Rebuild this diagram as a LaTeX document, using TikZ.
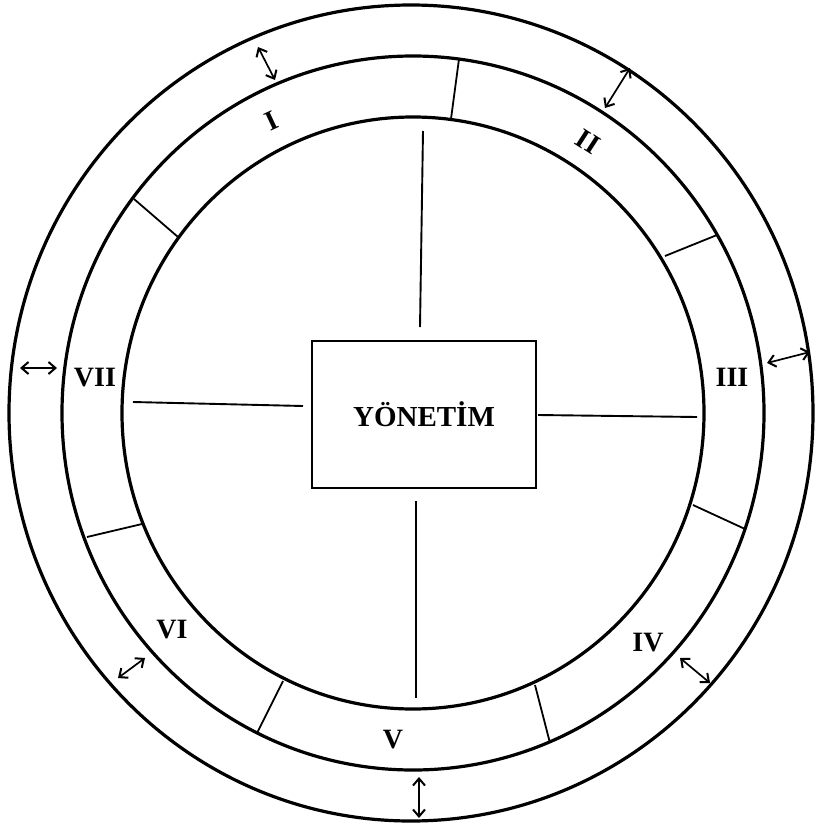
\documentclass[tikz,border=0pt]{standalone}
\usepackage{fontspec}
\setmainfont{Liberation Serif}
\usetikzlibrary{arrows.meta}
\begin{document}
\begin{tikzpicture}[x=1pt,y=-1pt,
  ring/.style={line width=3.2pt},
  divider/.style={line width=1.8pt},
  spoke/.style={line width=1.9pt},
  gap/.style={line width=1.7pt,{Straight Barb[length=7pt,width=12pt,line width=2pt]}-{Straight Barb[length=7pt,width=12pt,line width=2pt]}},
  lab/.style={font=\bfseries\fontsize{28}{28}\selectfont,inner sep=0pt},
  boxnode/.style={draw,line width=2pt,minimum width=224pt,minimum height=147pt,inner sep=0pt,font=\bfseries\fontsize{29}{29}\selectfont}]
\useasboundingbox (0,0) rectangle (815,827);
% rings
\draw[ring] (411,413) ellipse [x radius=402pt, y radius=408pt];
\draw[ring] (413,413) ellipse [x radius=351pt, y radius=357pt];
\draw[ring] (413,413) ellipse [x radius=291pt, y radius=296pt];
% centre box
\node[boxnode] (box) at (424,414) {YÖNETİM};
% spokes
\coordinate (tA) at (423,131); \coordinate (tB) at (420,327);
\coordinate (bA) at (416,501); \coordinate (bB) at (416,698);
\coordinate (lA) at (133,402); \coordinate (lB) at (303,406);
\coordinate (rA) at (538,415); \coordinate (rB) at (697,417);
\draw[spoke] (tA) -- (tB);
\draw[spoke] (bA) -- (bB);
\draw[spoke] (lA) -- (lB);
\draw[spoke] (rA) -- (rB);
% dividers between segments
\coordinate (d12m) at (459,59);  \coordinate (d12i) at (451,119);
\coordinate (d23m) at (717,235); \coordinate (d23i) at (665,256);
\coordinate (d34i) at (693,505); \coordinate (d34m) at (745,529);
\coordinate (d45i) at (535,685); \coordinate (d45m) at (550,743);
\coordinate (d56i) at (283,681); \coordinate (d56m) at (257,733);
\coordinate (d67m) at (87,537);  \coordinate (d67i) at (142,524);
\coordinate (d71m) at (134,199); \coordinate (d71i) at (178,237);
\foreach \a/\b in {d12m/d12i,d23m/d23i,d34i/d34m,d45i/d45m,d56i/d56m,d67m/d67i,d71m/d71i}
  \draw[divider] (\a) -- (\b);
% segment labels
\node[lab,rotate=25]  (s1) at (272,121) {I};
\node[lab,rotate=-33] (s2) at (588,142) {II};
\node[lab] (s3) at (732,377) {III};
\node[lab] (s4) at (648,643) {IV};
\node[lab] (s5) at (393,740) {V};
\node[lab] (s6) at (172,630) {VI};
\node[lab] (s7) at (95,378) {VII};
% double arrows across the outer ring
\coordinate (a1o) at (258,47);  \coordinate (a1i) at (275,80);
\coordinate (a2o) at (630,68);  \coordinate (a2i) at (605,108);
\coordinate (a3i) at (767,363); \coordinate (a3o) at (810,352);
\coordinate (a4i) at (680,658); \coordinate (a4o) at (710,683);
\coordinate (a5i) at (419,777); \coordinate (a5o) at (419,818);
\coordinate (a6o) at (118,678); \coordinate (a6i) at (145,658);
\coordinate (a7o) at (20,368);  \coordinate (a7i) at (57,368);
\draw[gap] (a1o) -- (a1i);
\draw[gap] (a2o) -- (a2i);
\draw[gap] (a3i) -- (a3o);
\draw[gap] (a4i) -- (a4o);
\draw[gap] (a5i) -- (a5o);
\draw[gap] (a6o) -- (a6i);
\draw[gap] (a7o) -- (a7i);
\end{tikzpicture}
\end{document}
